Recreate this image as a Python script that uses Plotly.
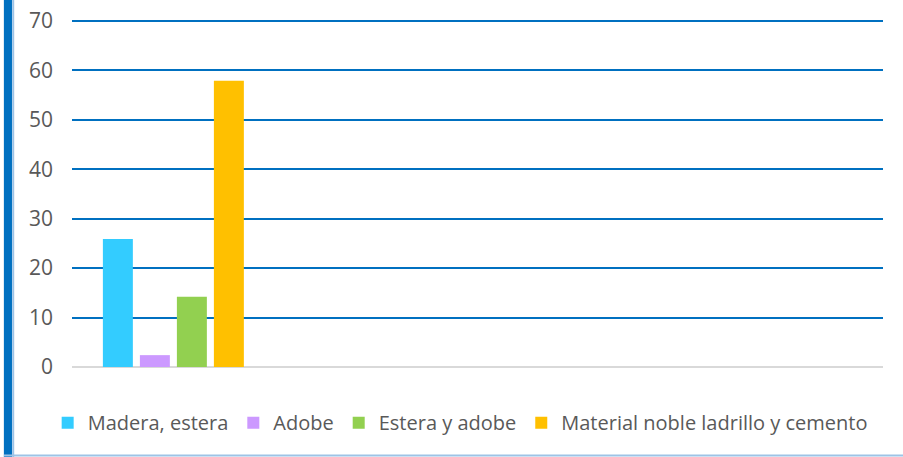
import plotly.graph_objects as go

SERIES = ['Madera, estera', 'Adobe', 'Estera y adobe', 'Material noble ladrillo y cemento']
VALUES = [25.9, 2.4, 14.2, 57.9]
COLORS = ['#33ccff', '#cc99ff', '#92d050', '#ffc000']
CATEGORY = ['1']
Y_TICKS = [0, 10, 20, 30, 40, 50, 60, 70]

FONT = 'Open Sans'

fig = go.Figure()
for name, val, col in zip(SERIES, VALUES, COLORS):
    fig.add_trace(go.Bar(x=CATEGORY, y=[val], name=name, marker=dict(color=col, line_width=0)))

fig.update_layout(
    width=903, height=457,
    margin=dict(l=72, r=20, t=19, b=90, autoexpand=False),
    plot_bgcolor='white', paper_bgcolor='white',
    barmode='group', bargap=0.27, bargroupgap=0.19,
    font=dict(family=FONT, color='#595959'),
    showlegend=True,
    legend=dict(orientation='h', x=-0.03, xanchor='left', y=-0.16, yanchor='middle',
                font=dict(size=20, color='#595959'), itemwidth=30, traceorder='normal'),
    shapes=[
        # left frame bar
        dict(type='rect', xref='paper', yref='paper', x0=-0.084, x1=-0.074, y0=-0.26, y1=1.061,
             fillcolor='#0070c0', line_width=0, layer='above'),
        dict(type='line', xref='paper', yref='paper', x0=-0.0725, x1=-0.0725, y0=-0.26, y1=1.061,
             line=dict(color='#9dc3e6', width=2)),
        # bottom frame line
        dict(type='line', xref='paper', yref='paper', x0=-0.084, x1=1.025, y0=-0.254, y1=-0.254,
             line=dict(color='#9dc3e6', width=2)),
    ],
)
fig.update_xaxes(range=[-0.5, 3.5], showticklabels=False, showgrid=False, showline=False, ticks='',
                 automargin=False)
fig.update_yaxes(range=[0, 70.4], tickvals=Y_TICKS, showgrid=True, gridcolor='#0070c0', gridwidth=2,
                 zeroline=True, zerolinecolor='#d9d9d9', zerolinewidth=2, automargin=False,
                 tickfont=dict(size=21, color='#595959'), ticklabelstandoff=18, showline=False)

# drop the browser's default page margin so the figure sits at (0, 0)
fig.write_html("out.html", config={'displayModeBar': False},
               post_script="document.body.style.margin='0px';")
